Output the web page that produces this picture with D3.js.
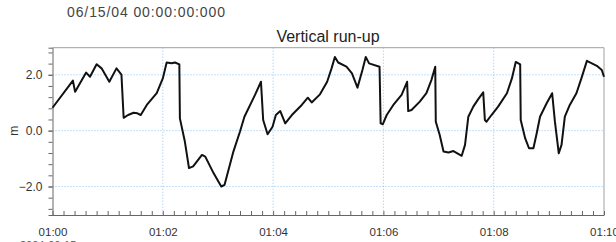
<!DOCTYPE html>
<html>
<head>
<meta charset="utf-8">
<script src="https://cdn.jsdelivr.net/npm/d3@7"></script>
<style>
    body { margin: 0; background: #fff; }
    svg { display: block; font-family: "Liberation Sans", Arial, sans-serif; }
    .grid line { stroke: #8fc3f2; stroke-width: 1; stroke-dasharray: 1,2; }
</style>
</head>
<body>
<svg width="616" height="242"></svg>
<script>
// minutes after 01:00 on 2004-06-15
var minutes = [0, 0.37, 0.41, 0.61, 0.68, 0.80, 0.89, 1.03, 1.16, 1.25, 1.29, 1.37, 1.47, 1.54, 1.60,
    1.71, 1.89, 2.00, 2.07, 2.16, 2.22, 2.30, 2.31, 2.40, 2.475, 2.55, 2.71, 2.77, 2.92, 3.06, 3.12,
    3.28, 3.40, 3.48, 3.67, 3.78, 3.82, 3.90, 3.99, 4.05, 4.13, 4.22, 4.34, 4.52, 4.63, 4.70, 4.85,
    4.98, 5.06, 5.12, 5.18, 5.33, 5.43, 5.53, 5.62, 5.68, 5.74, 5.93, 5.95, 5.99, 6.06, 6.18, 6.33,
    6.43, 6.45, 6.51, 6.66, 6.78, 6.87, 6.94, 6.95, 7.02, 7.09, 7.18, 7.27, 7.42, 7.48, 7.54, 7.63,
    7.72, 7.81, 7.84, 7.87, 7.96, 8.08, 8.24, 8.33, 8.40, 8.48, 8.49, 8.57, 8.64, 8.72, 8.78, 8.84,
    8.96, 9.06, 9.11, 9.18, 9.23, 9.29, 9.38, 9.50, 9.59, 9.69, 9.78, 9.87, 9.96, 10.0];
// vertical run-up, m
var runup = [0.82, 1.79, 1.39, 2.08, 1.93, 2.38, 2.23, 1.75, 2.23, 2.01, 0.46, 0.56, 0.64, 0.62, 0.56,
    0.92, 1.34, 1.87, 2.44, 2.41, 2.44, 2.37, 0.44, -0.39, -1.34, -1.28, -0.87, -0.93, -1.52, -2.0, -1.94,
    -0.75, -0.03, 0.5, 1.27, 1.75, 0.38, -0.13, 0.14, 0.56, 0.70, 0.26, 0.56, 0.92, 1.18, 1.01, 1.30,
    1.75, 2.23, 2.64, 2.44, 2.29, 2.05, 1.54, 2.17, 2.64, 2.41, 2.29, 0.26, 0.23, 0.56, 0.92, 1.28,
    1.75, 0.70, 0.74, 1.04, 1.34, 1.81, 2.29, 0.32, -0.15, -0.75, -0.78, -0.73, -0.90, -0.51, 0.5, 0.86,
    1.13, 1.37, 0.38, 0.32, 0.56, 0.86, 1.34, 1.87, 2.46, 2.37, 0.38, -0.27, -0.63, -0.63, -0.09, 0.5,
    0.98, 1.34, 0.32, -0.81, -0.51, 0.5, 0.92, 1.34, 1.87, 2.50, 2.41, 2.32, 2.17, 1.93];
var yTicks = [-2.0, 0.0, 2.0];
var xTickLabels = ["01:00", "01:02", "01:04", "01:06", "01:08", "01:10"];

var svg = d3.select("svg");
var pLeft = 52.5, pRight = 604, pTop = 47.7, pBottom = 215;

var t0 = new Date(2004, 5, 15, 1, 0, 0);
function toDate(m) { return new Date(t0.getTime() + m * 60000); }

var x = d3.scaleTime()
    .domain([t0, toDate(10)])
    .range([pLeft, pRight]);
var y = d3.scaleLinear()
    .domain([-3.02, 2.97])
    .range([pBottom, pTop]);

var majorX = d3.range(0, 11, 2).map(toDate);
var minorX = d3.range(0, 10.01, 0.2).map(toDate);
var minorY = d3.range(-2.8, 2.81, 0.4);

// header texts
svg.append("text")
    .attr("x", 67).attr("y", 17)
    .attr("font-size", 14).attr("fill", "#444")
    .attr("textLength", 158)
    .text("06/15/04 00:00:00:000");
svg.append("text")
    .attr("x", 328).attr("y", 41.5)
    .attr("text-anchor", "middle")
    .attr("font-size", 16).attr("fill", "#222")
    .text("Vertical run-up");

// grid
var grid = svg.append("g").attr("class", "grid");
grid.selectAll(".gx")
    .data(majorX.slice(1, -1))
  .enter().append("line")
    .attr("x1", function(d) { return x(d); }).attr("x2", function(d) { return x(d); })
    .attr("y1", pTop).attr("y2", pBottom);
grid.selectAll(".gy")
    .data(yTicks)
  .enter().append("line")
    .attr("x1", pLeft).attr("x2", pRight)
    .attr("y1", function(d) { return y(d); }).attr("y2", function(d) { return y(d); });

// frame (top and right)
svg.append("path")
    .attr("d", "M" + pLeft + "," + pTop + "H" + pRight + "V" + pBottom)
    .attr("fill", "none").attr("stroke", "#a0a0a0");

// x axis with minor ticks pointing up
var xMinor = d3.axisTop(x).tickValues(minorX).tickSize(4).tickFormat("");
svg.append("g")
    .attr("transform", "translate(0," + pBottom + ")")
    .call(xMinor)
    .call(function(g) {
        g.select(".domain").remove();
        g.selectAll("line").attr("stroke", "#666");
    });
var xAxis = d3.axisBottom(x)
    .tickValues(majorX)
    .tickSize(0)
    .tickPadding(13)
    .tickFormat(function(d, i) { return xTickLabels[i]; });
svg.append("g")
    .attr("transform", "translate(0," + pBottom + ")")
    .call(xAxis)
    .call(function(g) {
        g.select(".domain").attr("stroke", "#666");
        g.selectAll("text").attr("font-size", 11.5).attr("fill", "#333")
            .attr("font-family", "Liberation Sans, Arial, sans-serif");
    });

// y axis with minor ticks pointing left
var yMinor = d3.axisLeft(y).tickValues(minorY).tickSize(4).tickFormat("");
svg.append("g")
    .attr("transform", "translate(" + pLeft + ",0)")
    .call(yMinor)
    .call(function(g) {
        g.select(".domain").attr("stroke", "#666");
        g.selectAll("line").attr("stroke", "#666");
    });
var yAxis = d3.axisLeft(y).tickValues(yTicks).tickSize(4).tickPadding(6).tickFormat(d3.format(".1f"));
svg.append("g")
    .attr("transform", "translate(" + pLeft + ",0)")
    .call(yAxis)
    .call(function(g) {
        g.select(".domain").remove();
        g.selectAll("line").attr("stroke", "#666");
        g.selectAll("text").attr("font-size", 12).attr("fill", "#333")
            .attr("font-family", "Liberation Sans, Arial, sans-serif");
    });

svg.append("text")
    .attr("transform", "translate(18," + y(0) + ") rotate(-90)")
    .attr("text-anchor", "middle")
    .attr("font-size", 12).attr("fill", "#333")
    .text("m");

// date below axis, cut by the window
svg.append("text")
    .attr("x", 20).attr("y", 248.5)
    .attr("font-size", 11).attr("fill", "#555")
    .text("2004-06-15");

// series
var line = d3.line()
    .x(function(d, i) { return x(toDate(minutes[i])); })
    .y(function(d) { return y(d); });
svg.append("path")
    .datum(runup)
    .attr("fill", "none")
    .attr("stroke", "#111")
    .attr("stroke-width", 2)
    .attr("stroke-linejoin", "round")
    .attr("d", line);
</script>
</body>
</html>
